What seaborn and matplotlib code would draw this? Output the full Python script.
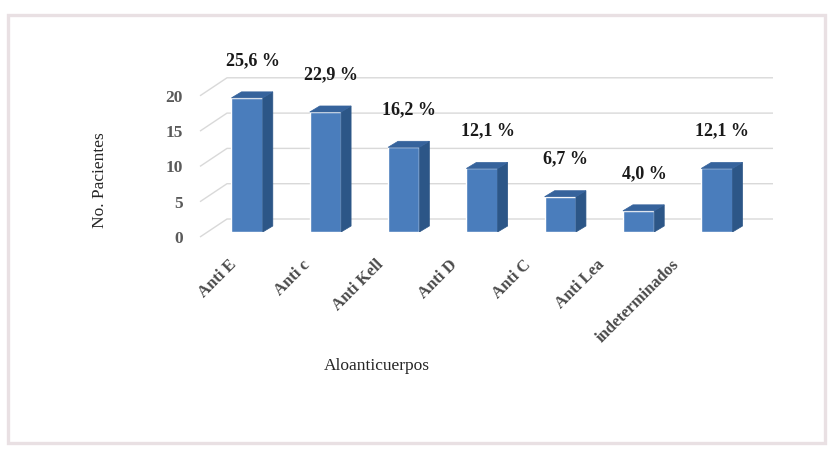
import matplotlib
matplotlib.use("Agg")
import matplotlib.pyplot as plt
import seaborn as sns
import pandas as pd
import numpy as np
from matplotlib.patches import Polygon, Rectangle
from matplotlib.transforms import ScaledTranslation

# ---- data ----
categories = ["Anti E", "Anti c", "Anti Kell", "Anti D", "Anti C", "Anti Lea", "indeterminados"]
pacientes = [19, 17, 12, 9, 5, 3, 9]
porcentajes = ["25,6 %", "22,9 %", "16,2 %", "12,1 %", "6,7 %", "4,0 %", "12,1 %"]
yticks = [0, 5, 10, 15, 20]
xlabel = "Aloanticuerpos"
ylabel = "No. Pacientes"

sns.set_theme(style="white")
plt.rcParams["font.family"] = ["Liberation Serif", "DejaVu Serif"]

W, H = 829, 450
fig = plt.figure(figsize=(W / 100, H / 100), dpi=100)
fig.patch.set_facecolor("white")

# outer frame
fig.patches.append(Rectangle((8 / W, 7 / H), 817 / W, 428 / H, transform=fig.transFigure,
                             fill=False, edgecolor="#e9e0e3", linewidth=2.4, zorder=0))

ax = fig.add_axes([208 / W, (H - 232) / H, 548 / W, 141.2 / H])
ax.set_facecolor("none")

FRONT = "#4a7dbc"
SIDE = "#2c5687"
TOP = "#36639c"
GRID = "#d9d9d9"

df = pd.DataFrame({"cat": categories, "n": pacientes})
sns.barplot(data=df, x="cat", y="n", color=FRONT, saturation=1, width=0.4, ax=ax, zorder=3)
ax.set_xlim(-0.5, 6.5)
ax.set_ylim(0, 20)

# pixel -> data helpers
def dxd(px):
    return px * (ax.get_xlim()[1] - ax.get_xlim()[0]) / 548.0

def dyd(px):
    return px * (ax.get_ylim()[1] - ax.get_ylim()[0]) / 141.2

# 3D depth for bars
ddx, ddy = dxd(10), dyd(6)
for p in list(ax.patches):
    xl = p.get_x()
    xr = xl + p.get_width()
    h = p.get_height()
    ax.add_patch(Polygon([(xr, 0), (xr + ddx, ddy), (xr + ddx, h + ddy), (xr, h)],
                         closed=True, facecolor=SIDE, edgecolor=SIDE, lw=0.5, zorder=3))
    ax.add_patch(Polygon([(xl, h), (xr, h), (xr + ddx, h + ddy), (xl + ddx, h + ddy)],
                         closed=True, facecolor=TOP, edgecolor=TOP, lw=0.5, zorder=3))

# walls gridlines (left wall slanted + back wall)
xf = -0.5 + dxd(200 - 208)
xb = -0.5 + dxd(227 - 208)
xr_ = -0.5 + dxd(773 - 208)
fy = dyd(-5)
by = dyd(13)
for v in yticks:
    ax.plot([xf, xb, xr_], [v + fy, v + by, v + by], color=GRID, lw=1.0, zorder=1,
            clip_on=False, solid_capstyle="butt")

# percent labels
for i, (v, t) in enumerate(zip(pacientes, porcentajes)):
    ax.annotate(t, (i, v), xytext=(4, 27), textcoords="offset points",
                ha="center", va="center", fontsize=13, fontweight="bold",
                color="#1a1a1a", annotation_clip=False)

for s in ax.spines.values():
    s.set_visible(False)

ax.set_yticks(yticks)
ax.set_yticklabels([str(t) for t in yticks], fontsize=12.5, fontweight="bold", color="#5a5a5a")
ax.tick_params(axis="y", length=0, pad=18)
for lab in ax.get_yticklabels():
    lab.set_transform(lab.get_transform() + ScaledTranslation(0, -5 / 100, fig.dpi_scale_trans))

ax.set_xticks(range(len(categories)))
ax.set_xticklabels(categories, rotation=45, ha="right", va="center", rotation_mode="anchor",
                   fontsize=12, fontweight="bold", color="#4a4a4a")
ax.tick_params(axis="x", length=0, pad=22)
for i, lab in enumerate(ax.get_xticklabels()):
    lab.set_transform(lab.get_transform() + ScaledTranslation((-13 - 4.6 * i) / 100, 0, fig.dpi_scale_trans))

ax.set_xlabel("")
ax.set_ylabel("")
fig.text(377 / W, 1 - 366 / H, xlabel, ha="center", va="center", fontsize=12.5, color="#262626")
fig.text(100 / W, 1 - 180 / H, ylabel, ha="center", va="center", rotation=90, fontsize=12.5,
         color="#262626")

fig.savefig("out.png", dpi=100)
